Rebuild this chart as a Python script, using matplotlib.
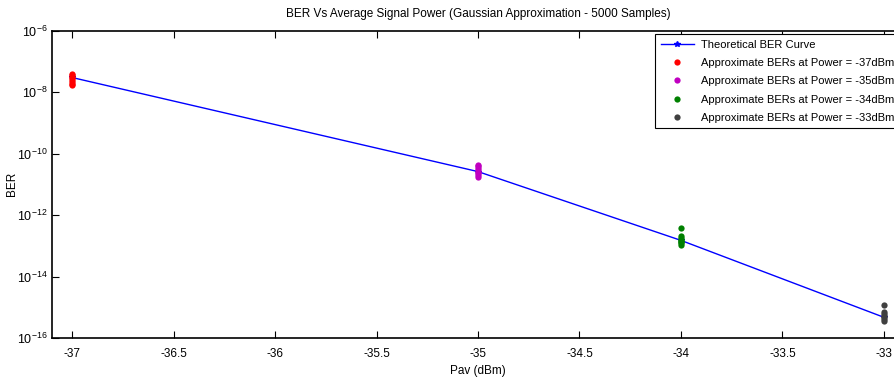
import math
import matplotlib
matplotlib.use("Agg")
import matplotlib.pyplot as plt
from matplotlib.ticker import FixedLocator, FuncFormatter

plt.rcParams['font.family'] = ['Liberation Sans', 'DejaVu Sans']
plt.rcParams['mathtext.fontset'] = 'custom'
plt.rcParams['mathtext.rm'] = 'Liberation Sans'
plt.rcParams['mathtext.it'] = 'Liberation Sans'
plt.rcParams['mathtext.default'] = 'regular'

# Data
theory_power = [-37, -35, -34, -33]
theory_ber = [3.0e-8, 2.6e-11, 1.5e-13, 4.7e-16]

approx_power = [-37, -35, -34, -33]
ber_37 = [3.9e-8, 3.5e-8, 3.1e-8, 2.8e-8, 2.5e-8, 2.2e-8, 1.9e-8, 1.7e-8]
ber_35 = [4.4e-11, 3.9e-11, 3.4e-11, 3.0e-11, 2.6e-11, 2.3e-11, 2.0e-11, 1.7e-11]
ber_34 = [3.8e-13, 2.1e-13, 1.85e-13, 1.6e-13, 1.45e-13, 1.3e-13, 1.2e-13, 1.1e-13]
ber_33 = [1.2e-15, 6.8e-16, 6.0e-16, 5.3e-16, 4.7e-16, 4.2e-16, 3.7e-16]
approx_sets = [ber_37, ber_35, ber_34, ber_33]
labels = ['Approximate BERs at Power = -37dBm',
          'Approximate BERs at Power = -35dBm',
          'Approximate BERs at Power = -34dBm',
          'Approximate BERs at Power = -33dBm']
colors = ['#ff0000', '#c000c0', '#008000', '#404040']

xticks = [-37, -36.5, -36, -35.5, -35, -34.5, -34, -33.5, -33]
xticklabels = ['-37', '-36.5', '-36', '-35.5', '-35', '-34.5', '-34', '-33.5', '-33']
yticks = [1e-16, 1e-14, 1e-12, 1e-10, 1e-8, 1e-6]

W, H = 895, 378
fig = plt.figure(figsize=(W / 100, H / 100), dpi=100)
ax_left = 51.7 / W
ax_width = 852.6 / W
ax_bottom = (H - 338) / H
ax_height = (338 - 30.7) / H
ax = fig.add_axes([ax_left, ax_bottom, ax_width, ax_height])

ax.semilogy(theory_power, theory_ber, color='#0000ff', linewidth=1.0,
            marker='*', markersize=4, label='Theoretical BER Curve')
for p, vals, lab, c in zip(approx_power, approx_sets, labels, colors):
    ax.semilogy([p] * len(vals), vals, linestyle='none', marker='o',
                markersize=4.5, markeredgewidth=0, color=c, label=lab)

ax.set_xlim(-37.1, -32.9)
ax.set_ylim(1e-16, 1e-6)
ax.xaxis.set_major_locator(FixedLocator(xticks))
ax.set_xticklabels(xticklabels)
ax.yaxis.set_major_locator(FixedLocator(yticks))
ax.yaxis.set_minor_locator(FixedLocator([]))
ax.yaxis.set_major_formatter(FuncFormatter(lambda v, pos: r'$10^{%d}$' % round(math.log10(v))))

ax.tick_params(axis='both', which='major', direction='in', length=5, width=0.8,
               top=True, right=True)
ax.tick_params(axis='x', labelsize=8.5, pad=7)
ax.tick_params(axis='y', labelsize=9, pad=3)
for s in ax.spines.values():
    s.set_linewidth(1.2)

ax.set_title('BER Vs Average Signal Power (Gaussian Approximation - 5000 Samples)',
             fontsize=8.5, pad=10)
ax.set_xlabel('Pav (dBm)', fontsize=8.5, labelpad=4)
ax.set_ylabel('BER', fontsize=8.5)
ax.yaxis.set_label_coords((18 - 51.7) / 852.6, 0.5)

leg = fig.legend(loc='upper left', bbox_to_anchor=(655 / W, 1 - 34 / H),
                 bbox_transform=fig.transFigure, fontsize=8, frameon=True,
                 fancybox=False, borderaxespad=0, labelspacing=0.75,
                 handlelength=3.0, handletextpad=0.6, borderpad=0.5,
                 numpoints=1)
leg.get_frame().set_edgecolor('black')
leg.get_frame().set_linewidth(0.8)
leg.get_frame().set_alpha(1)

fig.savefig('out.png', dpi=100)
